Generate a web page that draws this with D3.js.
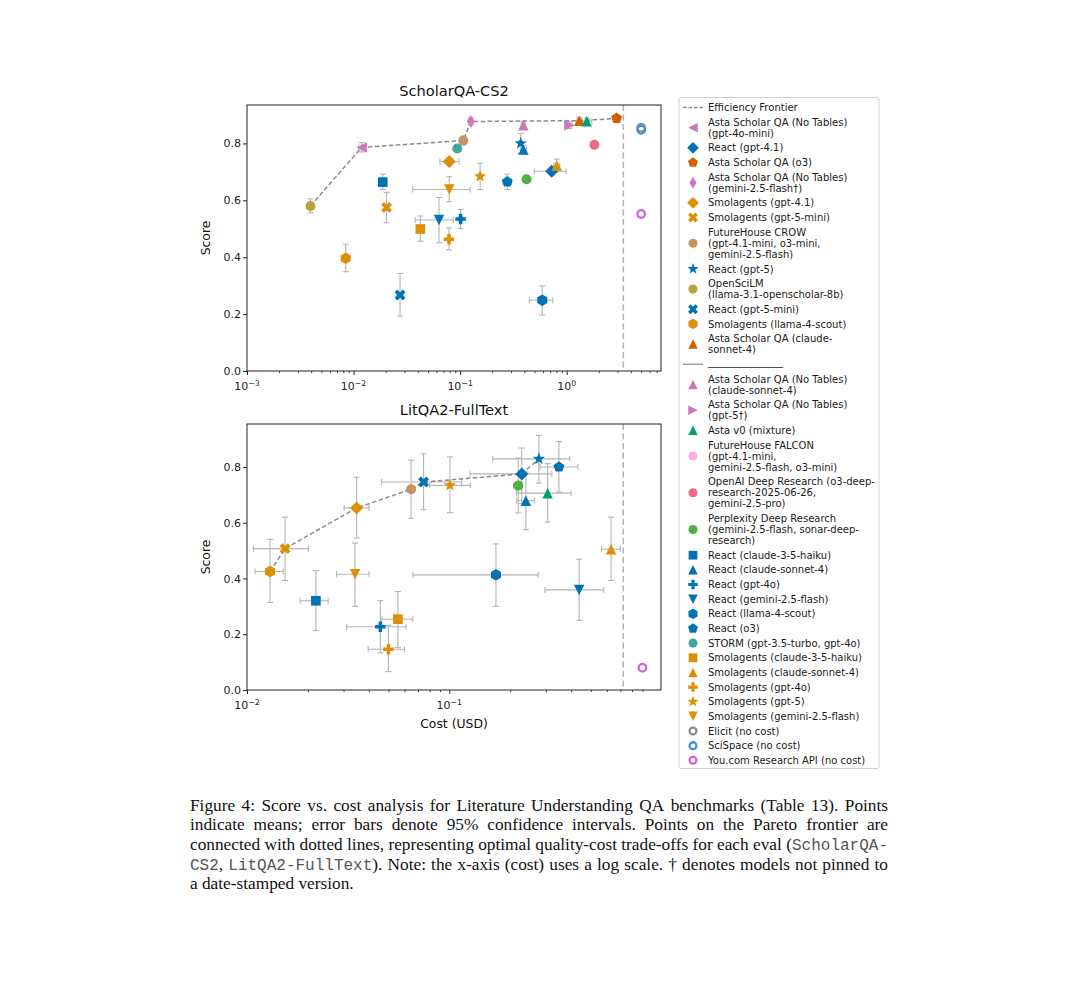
<!DOCTYPE html>
<html>
<head>
<meta charset="utf-8">
<script src="https://cdn.jsdelivr.net/npm/d3@7"></script>
<style>
  body { margin: 0; background: #fff; }
  svg { display: block; }
</style>
</head>
<body>
<svg id="fig" width="1080" height="997"></svg>
<script>
// ---- systems (legend order) ----
const systemIds = [
  "astaNT-4omini", "react-41", "asta-o3", "astaNT-gemini", "smol-41", "smol-5mini",
  "fh-crow", "react-5", "openscilm", "react-5mini", "smol-llama", "asta-claude",
  "SEP",
  "astaNT-claude", "astaNT-5", "asta-v0", "fh-falcon", "openai-dr", "pplx-dr",
  "react-haiku", "react-claude", "react-4o", "react-gemini", "react-llama", "react-o3",
  "storm", "smol-haiku", "smol-claude", "smol-4o", "smol-5", "smol-gemini",
  "elicit", "scispace", "youcom"
];
const systemLabels = [
  ["Asta Scholar QA (No Tables)", "(gpt-4o-mini)"],
  ["React (gpt-4.1)"],
  ["Asta Scholar QA (o3)"],
  ["Asta Scholar QA (No Tables)", "(gemini-2.5-flash\u2020)"],
  ["Smolagents (gpt-4.1)"],
  ["Smolagents (gpt-5-mini)"],
  ["FutureHouse CROW", "(gpt-4.1-mini, o3-mini,", "gemini-2.5-flash)"],
  ["React (gpt-5)"],
  ["OpenSciLM", "(llama-3.1-openscholar-8b)"],
  ["React (gpt-5-mini)"],
  ["Smolagents (llama-4-scout)"],
  ["Asta Scholar QA (claude-", "sonnet-4)"],
  ["_______________"],
  ["Asta Scholar QA (No Tables)", "(claude-sonnet-4)"],
  ["Asta Scholar QA (No Tables)", "(gpt-5\u2020)"],
  ["Asta v0 (mixture)"],
  ["FutureHouse FALCON", "(gpt-4.1-mini,", "gemini-2.5-flash, o3-mini)"],
  ["OpenAI Deep Research (o3-deep-", "research-2025-06-26,", "gemini-2.5-pro)"],
  ["Perplexity Deep Research", "(gemini-2.5-flash, sonar-deep-", "research)"],
  ["React (claude-3-5-haiku)"],
  ["React (claude-sonnet-4)"],
  ["React (gpt-4o)"],
  ["React (gemini-2.5-flash)"],
  ["React (llama-4-scout)"],
  ["React (o3)"],
  ["STORM (gpt-3.5-turbo, gpt-4o)"],
  ["Smolagents (claude-3-5-haiku)"],
  ["Smolagents (claude-sonnet-4)"],
  ["Smolagents (gpt-4o)"],
  ["Smolagents (gpt-5)"],
  ["Smolagents (gemini-2.5-flash)"],
  ["Elicit (no cost)"],
  ["SciSpace (no cost)"],
  ["You.com Research API (no cost)"]
];
const systemMarkers = [
  "<", "D", "p", "d", "D", "X", "o", "*", "o", "X", "h", "^",
  "line",
  "^", ">", "^", "o", "o", "o", "s", "^", "P", "v", "h", "p",
  "o", "s", "^", "P", "*", "v", "ring", "ring", "ring"
];
const systemColors = [
  "#cc78bc", "#0173b2", "#d55e00", "#cc78bc", "#de8f05", "#de8f05", "#ca9161", "#0173b2",
  "#b9a23c", "#0173b2", "#de8f05", "#d55e00",
  "#a0a0a0",
  "#cc78bc", "#cc78bc", "#029e73", "#fbafe4", "#ee6a80", "#52b043",
  "#0173b2", "#0173b2", "#0173b2", "#0173b2", "#0173b2", "#0173b2",
  "#40a6a0", "#de8f05", "#de8f05", "#de8f05", "#de8f05", "#de8f05",
  "#8c8c8c", "#4593d8", "#d264d8"
];

// ---- ScholarQA-CS2 ----
const cs2Ids = [
  "openscilm", "astaNT-4omini", "fh-crow", "astaNT-gemini", "astaNT-claude", "astaNT-5",
  "asta-claude", "asta-v0", "asta-o3", "openai-dr", "storm", "react-5", "react-claude",
  "smol-41", "smol-5", "react-41", "smol-claude", "react-o3", "pplx-dr", "react-haiku",
  "smol-gemini", "smol-5mini", "react-gemini", "react-4o", "smol-haiku", "smol-4o",
  "smol-llama", "react-5mini", "react-llama", "elicit", "scispace", "youcom"
];
const cs2Cost = [
  0.00394, 0.0119, 0.107, 0.126, 0.392, 1.06,
  1.31, 1.54, 2.94, 1.82, 0.094, 0.370, 0.392,
  0.079, 0.154, 0.723, 0.805, 0.277, 0.420, 0.0188,
  0.079, 0.0204, 0.0633, 0.101, 0.0423, 0.0786,
  0.00844, 0.0273, 0.59, 5.0, 5.0, 5.0
];
const cs2Score = [
  0.580, 0.786, 0.810, 0.877, 0.864, 0.864,
  0.880, 0.878, 0.888, 0.795, 0.782, 0.800, 0.779,
  0.736, 0.684, 0.702, 0.722, 0.665, 0.674, 0.664,
  0.638, 0.575, 0.531, 0.534, 0.499, 0.463,
  0.396, 0.267, 0.249, 0.855, 0.848, 0.552
];
const cs2CostCI = [
  [0.0037, 0.0042], [0.0112, 0.0126], [0.101, 0.113], [0.121, 0.131], [0.375, 0.41], [1.0, 1.12],
  [1.25, 1.37], [1.40, 1.72], [2.82, 3.06], [1.76, 1.88], [0.090, 0.098], [0.355, 0.385], [0.375, 0.42],
  [0.0646, 0.0977], [0.148, 0.160], [0.497, 0.985], [0.76, 0.86], [0.253, 0.303], [0.41, 0.43], [0.0183, 0.0193],
  [0.0359, 0.124], [0.0198, 0.021], [0.0378, 0.0863], [0.097, 0.106], [0.041, 0.0436], [0.076, 0.081],
  [0.0082, 0.0087], [0.0255, 0.029], [0.446, 0.739], null, null, null
];
const cs2ScoreCI = [
  [0.556, 0.605], [0.770, 0.803], [0.795, 0.825], [0.865, 0.890], [0.850, 0.878], [0.852, 0.876],
  [0.868, 0.892], [0.866, 0.889], [0.878, 0.898], [0.786, 0.804], [0.770, 0.795], [0.765, 0.835], [0.765, 0.793],
  [0.724, 0.748], [0.638, 0.730], [0.690, 0.715], [0.700, 0.745], [0.638, 0.692], [0.665, 0.683], [0.638, 0.692],
  [0.595, 0.683], [0.521, 0.628], [0.451, 0.610], [0.500, 0.568], [0.456, 0.545], [0.426, 0.503],
  [0.349, 0.446], [0.193, 0.343], [0.197, 0.299], null, null, null
];
const cs2Frontier = ["openscilm", "astaNT-4omini", "fh-crow", "astaNT-gemini", "asta-claude", "asta-o3"];
const cs2NoCostLine = 3.4;
const cs2MajorTicks = [1e-3, 1e-2, 1e-1, 1e0];

// ---- LitQA2-FullText ----
const litIds = [
  "smol-llama", "smol-5mini", "react-haiku", "smol-41", "smol-gemini", "react-4o", "smol-haiku",
  "smol-4o", "fh-crow", "react-5mini", "smol-5", "react-llama", "react-41", "pplx-dr",
  "react-claude", "asta-v0", "react-5", "react-o3", "smol-claude", "react-gemini", "youcom"
];
const litCost = [
  0.0130, 0.01542, 0.0219, 0.0348, 0.0342, 0.0456, 0.0557,
  0.050, 0.0647, 0.0746, 0.1007, 0.170, 0.228, 0.219,
  0.239, 0.306, 0.277, 0.348, 0.630, 0.438, 0.90
];
const litScore = [
  0.425, 0.507, 0.320, 0.653, 0.415, 0.227, 0.254,
  0.146, 0.720, 0.746, 0.734, 0.413, 0.775, 0.733,
  0.679, 0.706, 0.829, 0.800, 0.505, 0.359, 0.080
];
const litCostCI = [
  [0.01096, 0.0151], [0.01075, 0.0201], [0.0183, 0.0252], [0.0302, 0.0401], [0.0277, 0.0401], [0.0311, 0.0611], [0.0464, 0.066],
  [0.0397, 0.060], [0.0632, 0.0662], [0.0463, 0.115], [0.080, 0.127], [0.066, 0.275], [0.1265, 0.321], [0.208, 0.230],
  [0.215, 0.263], [0.215, 0.40], [0.164, 0.393], [0.281, 0.432], [0.565, 0.70], [0.297, 0.58], null
];
const litScoreCI = [
  [0.314, 0.540], [0.393, 0.620], [0.213, 0.428], [0.545, 0.763], [0.300, 0.527], [0.133, 0.321], [0.152, 0.353],
  [0.066, 0.232], [0.616, 0.824], [0.647, 0.847], [0.636, 0.836], [0.300, 0.524], [0.668, 0.868], [0.635, 0.832],
  [0.575, 0.782], [0.602, 0.812], [0.742, 0.913], [0.710, 0.891], [0.393, 0.620], [0.250, 0.469], null
];
const litFrontier = ["smol-llama", "smol-5mini", "smol-41", "fh-crow", "react-5mini", "react-41", "react-5"];
const litNoCostLine = 0.724;
const litMajorTicks = [1e-2, 1e-1];

const yTicks = [0, 0.2, 0.4, 0.6, 0.8];

const captionLines = [
  "Figure 4: Score vs. cost analysis for Literature Understanding QA benchmarks (Table 13). Points",
  "indicate means; error bars denote 95% confidence intervals. Points on the Pareto frontier are",
  "connected with dotted lines, representing optimal quality-cost trade-offs for each eval (`ScholarQA-`",
  "`CS2`, `LitQA2-FullText`). Note: the x-axis (cost) uses a log scale. \u2020 denotes models not pinned to",
  "a date-stamped version."
];

const svg = d3.select("#fig");
svg.append("rect").attr("width", 1080).attr("height", 997).attr("fill", "#fff");

const colorOf = id => systemColors[systemIds.indexOf(id)];
const markerOf = id => systemMarkers[systemIds.indexOf(id)];

function poly(pts) { return "M" + pts.map(p => p[0].toFixed(2) + "," + p[1].toFixed(2)).join("L") + "Z"; }
function regular(n, R, start) {
  const pts = [];
  for (let i = 0; i < n; i++) {
    const a = start + i * 2 * Math.PI / n;
    pts.push([R * Math.cos(a), R * Math.sin(a)]);
  }
  return pts;
}
function markerPath(type, s) {
  const a = s * 0.5;
  switch (type) {
    case "o": case "ring": {
      const r = type === "ring" ? s * 0.36 : s * 0.48;
      return `M${r},0A${r},${r} 0 1,1 ${-r},0A${r},${r} 0 1,1 ${r},0Z`;
    }
    case "s": { const h = s * 0.46; return poly([[-h, -h], [h, -h], [h, h], [-h, h]]); }
    case "D": { const h = s * 0.62; return poly([[0, -h], [h, 0], [0, h], [-h, 0]]); }
    case "d": { const h = s * 0.62; return poly([[0, -h], [h * 0.6, 0], [0, h], [-h * 0.6, 0]]); }
    case "^": return poly([[0, -a], [a, a], [-a, a]]);
    case "v": return poly([[0, a], [a, -a], [-a, -a]]);
    case "<": return poly([[-a, 0], [a, -a], [a, a]]);
    case ">": return poly([[a, 0], [-a, -a], [-a, a]]);
    case "p": return poly(regular(5, s * 0.55, -Math.PI / 2));
    case "h": return poly(regular(6, s * 0.55, -Math.PI / 2));
    case "*": {
      const pts = [];
      for (let i = 0; i < 10; i++) {
        const R = i % 2 === 0 ? s * 0.62 : s * 0.25;
        const ang = -Math.PI / 2 + i * Math.PI / 5;
        pts.push([R * Math.cos(ang), R * Math.sin(ang)]);
      }
      return poly(pts);
    }
    case "P": case "X": {
      const t = a / 3;
      let pts = [[-t, -a], [t, -a], [t, -t], [a, -t], [a, t], [t, t], [t, a], [-t, a], [-t, t], [-a, t], [-a, -t], [-t, -t]];
      if (type === "X") {
        const c = Math.SQRT1_2;
        pts = pts.map(p => [(p[0] - p[1]) * c * 1.1, (p[0] + p[1]) * c * 1.1]);
      }
      return poly(pts);
    }
  }
  return "";
}
function drawMarker(g, type, color, x, y, s) {
  const p = g.append("path").attr("d", markerPath(type, s)).attr("transform", `translate(${x},${y})`);
  if (type === "ring") p.attr("fill", "none").attr("stroke", color).attr("stroke-width", 2.3);
  else p.attr("fill", color);
}

const plotLeft = 247, plotRight = 661;
const panels = [
  { title: "ScholarQA-CS2", top: 105, bottom: 371, xDomain: [1e-3, 7.67], yMax: 0.935, major: cs2MajorTicks,
    ids: cs2Ids, cost: cs2Cost, score: cs2Score, costCI: cs2CostCI, scoreCI: cs2ScoreCI,
    frontier: cs2Frontier, noCost: cs2NoCostLine, xLabel: false },
  { title: "LitQA2-FullText", top: 424, bottom: 690, xDomain: [1e-2, 1.112], yMax: 0.954, major: litMajorTicks,
    ids: litIds, cost: litCost, score: litScore, costCI: litCostCI, scoreCI: litScoreCI,
    frontier: litFrontier, noCost: litNoCostLine, xLabel: true }
];

const font = "DejaVu Sans, sans-serif";

panels.forEach(p => {
  const x = d3.scaleLog().domain(p.xDomain).range([plotLeft, plotRight]);
  const y = d3.scaleLinear().domain([0, p.yMax]).range([p.bottom, p.top]);
  const g = svg.append("g");

  const major = p.major;
  const minor = [];
  major.forEach(v => {
    for (let k = 2; k <= 9; k++) if (k * v < p.xDomain[1]) minor.push(k * v);
  });
  g.append("g").attr("transform", `translate(0,${p.bottom})`)
    .call(d3.axisBottom(x).tickValues(minor).tickFormat(() => "").tickSize(2.2).tickSizeOuter(0))
    .call(a => a.select(".domain").remove())
    .call(a => a.selectAll("line").attr("stroke", "#222").attr("stroke-width", 0.8));
  g.append("g").attr("transform", `translate(0,${p.bottom})`)
    .call(d3.axisBottom(x).tickValues(major).tickFormat(() => "").tickSize(4).tickSizeOuter(0))
    .call(a => a.select(".domain").remove())
    .call(a => a.selectAll("line").attr("stroke", "#222").attr("stroke-width", 1));
  major.forEach(v => {
    const e = Math.round(Math.log10(v));
    const t = g.append("text").attr("x", x(v)).attr("y", p.bottom + 19)
      .attr("text-anchor", "middle").attr("font-family", font).attr("font-size", 11).attr("fill", "#222");
    t.append("tspan").text("10");
    t.append("tspan").attr("dy", -4.5).attr("font-size", 7.8).text(e < 0 ? "\u2212" + (-e) : String(e));
  });

  g.append("g").attr("transform", `translate(${plotLeft},0)`)
    .call(d3.axisLeft(y).tickValues(yTicks).tickFormat(d3.format(".1f")).tickSize(4).tickSizeOuter(0))
    .call(a => a.select(".domain").remove())
    .call(a => a.selectAll("line").attr("stroke", "#222"))
    .call(a => a.selectAll("text").attr("font-family", font).attr("font-size", 11).attr("fill", "#222").attr("x", -6));

  // no-cost separator
  g.append("line").attr("x1", x(p.noCost)).attr("x2", x(p.noCost)).attr("y1", p.top).attr("y2", p.bottom)
    .attr("stroke", "#b0b0b0").attr("stroke-width", 1.5).attr("stroke-dasharray", "6,3.5");

  // error bars
  const eb = g.append("g").attr("stroke", "#b4b4b4").attr("stroke-width", 1.1).attr("fill", "none");
  p.ids.forEach((id, i) => {
    const cx = x(p.cost[i]), cy = y(p.score[i]);
    if (p.costCI[i]) {
      const [a, b] = p.costCI[i];
      eb.append("line").attr("x1", x(a)).attr("x2", x(b)).attr("y1", cy).attr("y2", cy);
      [a, b].forEach(v => eb.append("line").attr("x1", x(v)).attr("x2", x(v)).attr("y1", cy - 3).attr("y2", cy + 3));
    }
    if (p.scoreCI[i]) {
      const [a, b] = p.scoreCI[i];
      eb.append("line").attr("x1", cx).attr("x2", cx).attr("y1", y(a)).attr("y2", y(b));
      [a, b].forEach(v => eb.append("line").attr("x1", cx - 3).attr("x2", cx + 3).attr("y1", y(v)).attr("y2", y(v)));
    }
  });

  // frontier
  const fpts = p.frontier.map(id => { const i = p.ids.indexOf(id); return [x(p.cost[i]), y(p.score[i])]; });
  g.append("path").attr("d", d3.line()(fpts)).attr("fill", "none")
    .attr("stroke", "#8a8a8a").attr("stroke-width", 1.5).attr("stroke-dasharray", "4.5,2.5");

  // points
  p.ids.forEach((id, i) => drawMarker(g, markerOf(id), colorOf(id), x(p.cost[i]), y(p.score[i]), 10.5));

  // frame
  g.append("rect").attr("x", plotLeft).attr("y", p.top).attr("width", plotRight - plotLeft).attr("height", p.bottom - p.top)
    .attr("fill", "none").attr("stroke", "#222").attr("stroke-width", 1);

  g.append("text").attr("x", (plotLeft + plotRight) / 2).attr("y", p.top - 9).attr("text-anchor", "middle")
    .attr("font-family", font).attr("font-size", 14.6).attr("fill", "#111").text(p.title);
  g.append("text").attr("transform", `translate(210,${(p.top + p.bottom) / 2}) rotate(-90)`)
    .attr("text-anchor", "middle").attr("font-family", font).attr("font-size", 12.4).attr("fill", "#111").text("Score");
  if (p.xLabel) {
    g.append("text").attr("x", (plotLeft + plotRight) / 2).attr("y", p.bottom + 38).attr("text-anchor", "middle")
      .attr("font-family", font).attr("font-size", 12.4).attr("fill", "#111").text("Cost (USD)");
  }
});

// ---- legend ----
const lg = svg.append("g");
lg.append("rect").attr("x", 679).attr("y", 97.5).attr("width", 200).attr("height", 671).attr("rx", 2)
  .attr("fill", "#fff").attr("stroke", "#d0d0d0").attr("stroke-width", 1);
const lineH = 11.05, gap = 3.6;
let ly = 107.5;
function legendText(lines, y0) {
  lines.forEach((t, k) => lg.append("text").attr("x", 708).attr("y", y0 + k * lineH + 3.6)
    .attr("font-family", font).attr("font-size", 10).attr("fill", "#1a1a1a").text(t));
}
lg.append("line").attr("x1", 683).attr("x2", 703).attr("y1", ly).attr("y2", ly)
  .attr("stroke", "#8a8a8a").attr("stroke-width", 1.5).attr("stroke-dasharray", "3.5,2");
legendText(["Efficiency Frontier"], ly);
ly += lineH + gap;
systemIds.forEach((id, i) => {
  const lines = systemLabels[i];
  const cy = ly + (lines.length - 1) * lineH / 2;
  if (systemMarkers[i] === "line") {
    lg.append("line").attr("x1", 683).attr("x2", 703).attr("y1", cy).attr("y2", cy)
      .attr("stroke", systemColors[i]).attr("stroke-width", 1.5);
    lg.append("text").attr("x", 708).attr("y", cy + 0.5).attr("font-family", font).attr("font-size", 10)
      .attr("fill", "#1a1a1a").text(lines[0]);
  } else {
    drawMarker(lg, systemMarkers[i], systemColors[i], 693, cy, 9.5);
    legendText(lines, ly);
  }
  ly += lines.length * lineH + gap;
});

// ---- caption ----
const cap = svg.append("g");
const serif = "Liberation Serif, Times New Roman, serif";
const mono = "Liberation Mono, DejaVu Sans Mono, monospace";
function parseWord(w) {
  const parts = w.split("`");
  return parts.map((t, k) => ({ t, mono: k % 2 === 1 })).filter(r => r.t.length);
}
function makeWord(runs, x, y) {
  const t = cap.append("text").attr("x", x).attr("y", y).attr("font-family", serif).attr("font-size", 17.3).attr("fill", "#111");
  runs.forEach(r => {
    const ts = t.append("tspan").text(r.t);
    if (r.mono) ts.attr("font-family", mono).attr("font-size", 16).attr("fill", "#555");
  });
  return t;
}
const capX0 = 190, capX1 = 888;
captionLines.forEach((line, li) => {
  const yb = 810.5 + li * 19.7;
  const words = line.split(" ").map(parseWord);
  const els = words.map(w => makeWord(w, 0, yb));
  const widths = els.map(e => e.node().getComputedTextLength());
  const total = d3.sum(widths);
  const justify = li < captionLines.length - 1;
  const sp = justify ? (capX1 - capX0 - total) / (words.length - 1) : 4.3;
  let cx = capX0;
  els.forEach((e, k) => { e.attr("x", cx); cx += widths[k] + sp; });
});
</script>
</body>
</html>
